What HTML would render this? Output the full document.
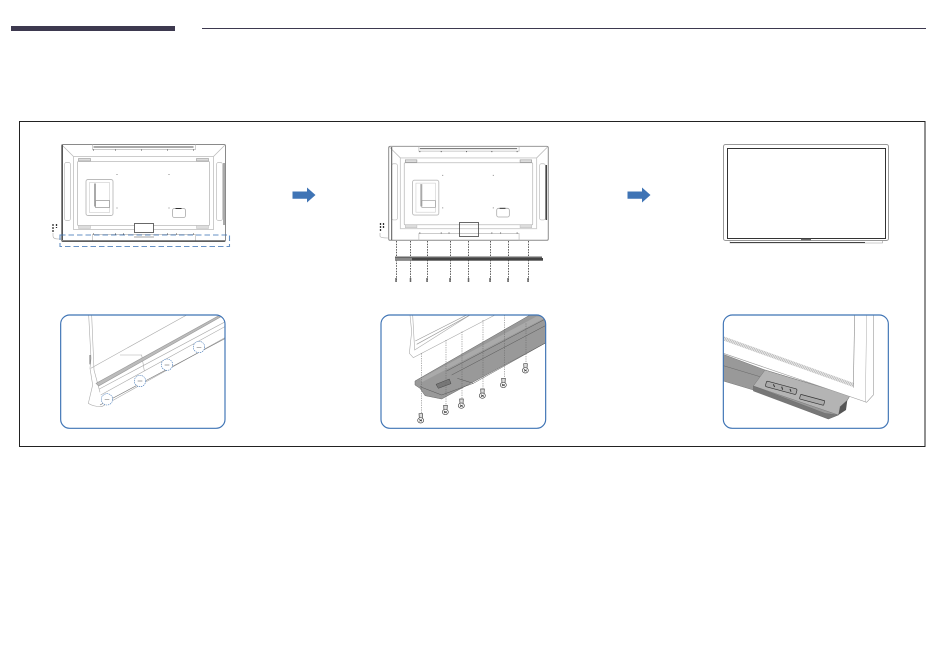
<!DOCTYPE html>
<html><head><meta charset="utf-8"><style>html,body{margin:0;padding:0;background:#fff;width:950px;height:648px;overflow:hidden}svg{display:block}</style></head><body>
<svg width="950" height="648" viewBox="0 0 950 648" xmlns="http://www.w3.org/2000/svg">
<defs>
<clipPath id="c1"><rect x="32" y="30" width="493" height="340" rx="27"/></clipPath>
<clipPath id="c2"><rect x="33" y="30" width="494" height="340" rx="27"/></clipPath>
<clipPath id="c3"><rect x="40" y="30" width="495" height="340" rx="27"/></clipPath>
<pattern id="h" width="5" height="5" patternUnits="userSpaceOnUse" patternTransform="rotate(30)"><rect width="5" height="5" fill="#eee"/><rect width="2" height="5" fill="#aaa"/></pattern>
<g id="back" fill="none">
<rect x="0" y="0" width="164" height="97" rx="1.500" stroke="#8a8a8a" stroke-width="1"/>
<rect x="12" y="12" width="140" height="73" stroke="#ccc" stroke-width="1"/>
<rect x="16" y="17" width="132" height="64" rx="1" stroke="#bbb" stroke-width=".8"/>
<path d="M1 1 12 12M163 1 152 12" stroke="#bbb" stroke-width=".8"/>
<path d="M31 0V5H134V0M31 97V90H134V97" stroke="#bbb" stroke-width=".7"/>
<path d="M32 2.500H132" stroke="#555" stroke-width=".9"/>
<rect x="3" y="18" width="6" height="58" rx="2" stroke="#bbb" stroke-width=".7"/>
<rect x="155" y="18" width="6" height="58" rx="2" stroke="#bbb" stroke-width=".7"/>
<rect x="17" y="14" width="12" height="2.500" fill="#ddd" stroke="#888" stroke-width=".5"/>
<rect x="135" y="14" width="12" height="2.500" fill="#ddd" stroke="#888" stroke-width=".5"/>
<rect x="17" y="81" width="12" height="3" fill="#ddd" stroke="#bbb" stroke-width=".5"/>
<rect x="135" y="81" width="12" height="3" fill="#ddd" stroke="#bbb" stroke-width=".5"/>
<rect x="24.500" y="35" width="27" height="36" rx="2" stroke="#bbb" stroke-width=".9"/>
<rect x="28" y="38" width="20" height="30" stroke="#ccc" stroke-width=".6"/>
<path d="M33.500 39V62" stroke="#aaa" stroke-width="2"/>
<path d="M34 56H48V63H34Z" stroke="#999" stroke-width=".7"/>
<rect x="111" y="64" width="13" height="9" rx="2" stroke="#aaa" stroke-width=".8"/>
<path d="M114 64h6" stroke="#333" stroke-width="1"/>
<path d="M55 30h1M107 30h1M55 63.500h1M107 63.500h1" stroke="#888" stroke-width="1"/>
<path d="M32 5v1M54 5v1M80 5v1M106 5v1M132 5v1M32 90v-1M54 90v-1M62 90v-1M106 90v-1M115 90v-1M132 90v-1" stroke="#555" stroke-width="1"/>
</g>
</defs>
<rect width="950" height="648" fill="#fff"/>
<rect x="11" y="26" width="164" height="5" fill="#3d394f"/>
<rect x="202" y="28" width="724" height="1" fill="#3d394f"/>
<rect x="19.500" y="121.500" width="905.500" height="325" fill="none" stroke="#222" stroke-width="1"/>

<!-- TV 1 -->
<use href="#back" x="61.500" y="144.500"/>
<path d="M62.500 145V240" stroke="#555" stroke-width="1"/>
<path d="M224 163V225" stroke="#555" stroke-width="1"/>
<rect x="134.500" y="223.500" width="19" height="9" fill="#fff" stroke="#444" stroke-width=".8"/>
<path d="M62 241H225" stroke="#444" stroke-width="1.300"/>
<path d="M134 237H154" stroke="#888" stroke-width=".8"/>
<path d="M53 224V232M56.500 224V228" stroke="#333" stroke-width="1.300" stroke-dasharray="2 1"/>
<path d="M53 233V236Q53 239 58 239H61" fill="none" stroke="#aaa" stroke-width=".6"/>
<rect x="60" y="235" width="169.500" height="11.500" fill="none" stroke="#3f74b5" stroke-width="1.100" stroke-dasharray="5.500 3" opacity=".8"/>
<path d="M292.500 191.500H307V187.500L315.500 195L307 202.500V198.800H292.500Z" fill="#3f74b5"/>

<!-- TV 2 -->
<g transform="translate(388.700 146.300) scale(.973 .969)"><use href="#back"/></g>
<path d="M391.700 147V240" stroke="#555" stroke-width="1"/>
<path d="M546.300 165V220" stroke="#444" stroke-width="1.500"/>
<rect x="459.500" y="222.500" width="19" height="14" fill="none" stroke="#444" stroke-width=".8"/>
<path d="M380.500 223V232M383.500 223V229" stroke="#333" stroke-width="1.300" stroke-dasharray="2 1"/>
<path d="M380 233V236Q380 238 388 238" fill="none" stroke="#aaa" stroke-width=".6"/>
<path d="M396.500 241V282M410.500 241V282M427.500 241V282M450.500 241V282M468.500 241V282M490.500 241V282M508.500 241V282M528.500 241V282" stroke="#333" stroke-width=".8" stroke-dasharray="1.500 1.200"/>
<rect x="395" y="256.500" width="147" height="1.500" fill="#666"/>
<rect x="395" y="258" width="148" height="2.700" fill="#444"/>
<rect x="395" y="258" width="17" height="2.700" fill="#888"/>
<path d="M396 278v4M410.500 278v4M427 278v4M450 278v4M468.500 278v4M490 278v4M508 278v4M528 278v4" stroke="#666" stroke-width="1.500"/>
<path d="M627.500 191.500H642V187.500L650.500 195L642 202.500V198.800H627.500Z" fill="#3f74b5"/>

<!-- TV 3 -->
<rect x="723.500" y="144.500" width="165" height="96" rx="2" fill="#fff" stroke="#999" stroke-width="1"/>
<rect x="727.500" y="148.500" width="158" height="90" fill="#fff" stroke="#333" stroke-width="1"/>
<path d="M730 241.500V243H882.500V241" fill="none" stroke="#999" stroke-width=".6"/>
<path d="M730 242.500H865" stroke="#444" stroke-width="1.100"/>
<path d="M801 239.500H811" stroke="#666" stroke-width="1.500"/>

<!-- Panel 1 -->
<g transform="translate(50 305) scale(.33333)">
<g clip-path="url(#c1)" fill="none" stroke="#aaa" stroke-width="1.800">
<path d="M116 30 123 160 120 190 128 240 115 295 Q130 305 155 305L530 95" />
<path d="M125 30 132 195 150 262"/>
<path d="M122 190 410 30"/>
<path d="M210 150H275L283 198"/>
<path d="M120 150V178" stroke="#777" stroke-width="3"/>
<path d="M138 235 510 30H522L146 243Z" fill="#bbb" stroke="#999"/>
<path d="M148 252 530 48M152 270 530 62"/>
<path d="M150 300 530 98" stroke="#777"/>
</g>
<g fill="#fff" stroke="#3f74b5" stroke-width="1.800" stroke-dasharray="4 2.500">
<circle cx="171" cy="283" r="17"/><circle cx="270" cy="228" r="17"/><circle cx="351" cy="179" r="17"/><circle cx="447" cy="126" r="17"/>
</g>
<path d="M164 284h14M263 228h14M344 180h14M440 127h14" stroke="#888" stroke-width="2"/>
<rect x="32" y="30" width="493" height="340" rx="27" fill="none" stroke="#3f74b5" stroke-width="3.500"/>
</g>

<!-- Panel 2 -->
<g transform="translate(370 305) scale(.33333)">
<g clip-path="url(#c2)">
<g fill="none" stroke="#aaa" stroke-width="1.800">
<path d="M120 30 125 80 118 145 130 158 375 30"/>
<path d="M128 30 134 135 300 30"/>
<path d="M136 108 290 30 M140 118 300 30" stroke="#999" stroke-width="2"/>
</g>
<path d="M135 228 480 30H530V112L215 282 165 272 150 250 135 240Z" fill="#999" stroke="#666" stroke-width="1.500"/>
<path d="M150 222 500 34 530 36 155 232Z" fill="#aaa"/>
<path d="M230 198 530 40M245 210 530 60M262 220 310 235 530 112M150 245 215 270 310 235" fill="none" stroke="#555" stroke-width="1.500"/>
<path d="M198 238 238 222 243 236 205 250Z" fill="#777" stroke="#444" stroke-width="1.500"/>
<path d="M155 145V325M228 105V300M276 80V280M339 45V250M403 30V220M468 55V175" stroke="#666" stroke-width="1.500" stroke-dasharray="4 3"/>
<g id="s" fill="#ddd" stroke="#444" stroke-width="2">
<path d="M147 326h11l-1 15h-9Z"/><ellipse cx="152" cy="346" rx="9" ry="8" fill="#fff"/><path d="M148 343l8 6M148 349l8-5" stroke-width="2.500"/>
</g>
<use href="#s" x="74" y="-25"/><use href="#s" x="122" y="-44"/><use href="#s" x="185" y="-74"/><use href="#s" x="248" y="-106"/><use href="#s" x="314" y="-150"/>
</g>
<rect x="33" y="30" width="494" height="340" rx="27" fill="none" stroke="#3f74b5" stroke-width="3.500"/>
</g>

<!-- Panel 3 -->
<g transform="translate(710 305) scale(.33333)">
<g clip-path="url(#c3)">
<path d="M40 148 165 195 420 272 385 330 355 342 130 255 40 228Z" fill="#999" stroke="#777" stroke-width="1.500"/>
<path d="M165 195 420 272 385 330 130 243Z" fill="#b4b4b4" stroke="#777" stroke-width="1.500"/>
<path d="M130 243 130 258 355 342 385 330 345 325Z" fill="#777" stroke="#666"/>
<path d="M40 182 150 215" stroke="#666" stroke-width="1.500"/>
<rect x="0" y="0" width="95" height="17" rx="4" transform="translate(170 228) rotate(15)" fill="#aaa" stroke="#333" stroke-width="2"/>
<path d="M190 238l4 8M215 245l3 9M240 252l3 8" stroke="#333" stroke-width="3"/>
<rect x="0" y="0" width="75" height="14" rx="2" transform="translate(272 268) rotate(15)" fill="#aaa" stroke="#333" stroke-width="2"/>
<path d="M390 305 412 285 408 315 385 330Z" fill="#555"/>
<path d="M40 145 450 285 470 292 490 270 490 30H434V240L40 105Z" fill="#fff"/>
<path d="M40 145 450 285 470 292 490 270 490 30" fill="none" stroke="#999" stroke-width="1.800"/>
<path d="M470 30 466 292" fill="none" stroke="#aaa" stroke-width="1.500"/>
<path d="M40 100 430 240" stroke="url(#h)" stroke-width="12" fill="none"/>
<path d="M434 30 430 248" fill="none" stroke="#888" stroke-width="1.800"/>
</g>
<rect x="40" y="30" width="495" height="340" rx="27" fill="none" stroke="#3f74b5" stroke-width="3.500"/>
</g>
</svg>
</body></html>
